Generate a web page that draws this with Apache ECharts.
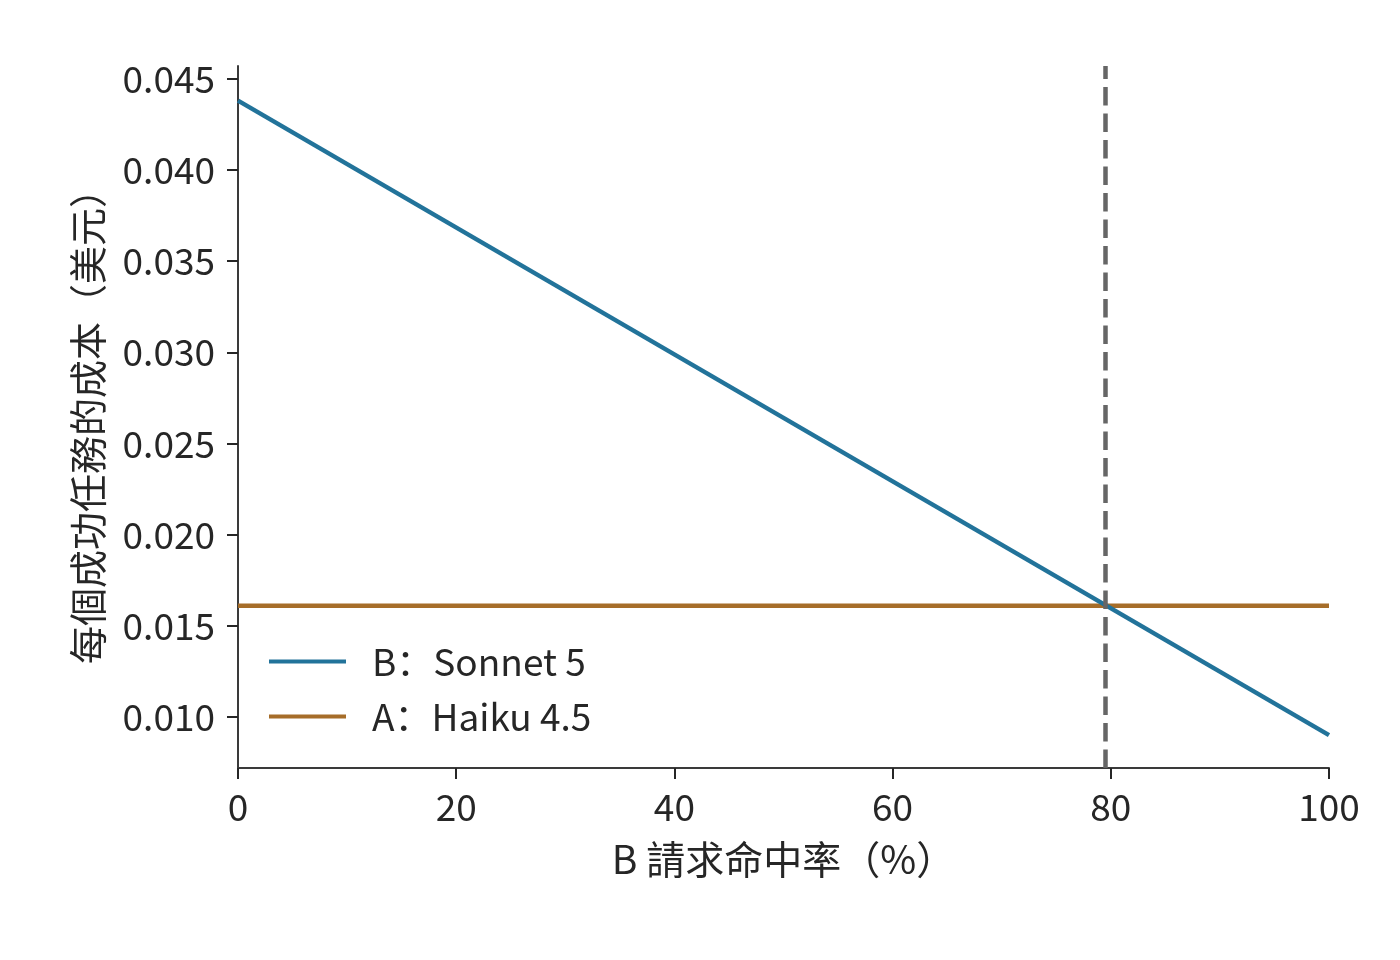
<!DOCTYPE html>
<html>
<head>
<meta charset="utf-8">
<script src="https://cdn.jsdelivr.net/npm/echarts@6/dist/echarts.min.js"></script>
<style>
html,body{margin:0;padding:0;background:#fff;}
#chart{width:1400px;height:960px;}
</style>
</head>
<body>
<div id="chart"></div>
<script>
// Data
const hitRates = [0, 100];
const sonnetCost = [0.0438, 0.0090];
const haikuCost = [0.0161, 0.0161];
const breakEven = 79.5;
const xTicks = [0, 20, 40, 60, 80, 100];
const yTicks = [0.010, 0.015, 0.020, 0.025, 0.030, 0.035, 0.040, 0.045];
const seriesNames = ['B：Sonnet 5', 'A：Haiku 4.5'];
const xAxisTitle = 'B 請求命中率（%）';
const yAxisTitle = '每個成功任務的成本（美元）';

const FONT = '"Noto Sans CJK SC", "Noto Sans CJK TC", "Noto Sans", sans-serif';
const TXT = '#262626';
const AX = '#3a3a3a';

const chart = echarts.init(document.getElementById('chart'), null, {renderer: 'canvas'});
chart.setOption({
  backgroundColor: '#ffffff',
  animation: false,
  textStyle: {fontFamily: FONT},
  grid: {left: 238, right: 71, top: 66, bottom: 192, containLabel: false},
  legend: {
    orient: 'vertical',
    left: 264,
    top: 638,
    icon: 'rect',
    itemWidth: 77,
    itemHeight: 4,
    itemGap: 18,
    textStyle: {fontFamily: FONT, fontSize: 37, color: TXT, padding: [0, 0, 0, 21]},
    data: seriesNames
  },
  xAxis: {
    type: 'value',
    min: 0,
    max: 100,
    interval: 20,
    name: xAxisTitle,
    nameLocation: 'middle',
    nameGap: 72,
    nameTextStyle: {fontFamily: FONT, fontSize: 39, color: TXT},
    axisLine: {show: true, lineStyle: {color: AX, width: 2}},
    axisTick: {show: true, length: 11, lineStyle: {color: TXT, width: 2}, customValues: xTicks},
    axisLabel: {fontFamily: FONT, fontSize: 37, color: TXT, margin: 20, customValues: xTicks},
    splitLine: {show: false}
  },
  yAxis: {
    type: 'value',
    min: 0.0072,
    max: 0.0457,
    name: yAxisTitle,
    nameLocation: 'middle',
    nameRotate: 90,
    nameGap: 131,
    nameTextStyle: {fontFamily: FONT, fontSize: 38, color: TXT},
    axisLine: {show: true, lineStyle: {color: AX, width: 2}},
    axisTick: {show: true, length: 11, lineStyle: {color: TXT, width: 2}, customValues: yTicks},
    axisLabel: {fontFamily: FONT, fontSize: 37, color: TXT, margin: 23, customValues: yTicks,
      formatter: v => v.toFixed(3)},
    splitLine: {show: false}
  },
  series: [
    {
      name: seriesNames[0],
      type: 'line',
      data: hitRates.map((x, i) => [x, sonnetCost[i]]),
      showSymbol: false,
      symbol: 'none',
      lineStyle: {color: '#22739a', width: 4.5},
      itemStyle: {color: '#22739a'},
      z: 3,
      markLine: {
        silent: true,
        symbol: 'none',
        label: {show: false},
        lineStyle: {color: '#666666', width: 4.5, type: [18.5, 8]},
        data: [{xAxis: breakEven}]
      }
    },
    {
      name: seriesNames[1],
      type: 'line',
      data: hitRates.map((x, i) => [x, haikuCost[i]]),
      showSymbol: false,
      symbol: 'none',
      lineStyle: {color: '#a66d29', width: 4.5},
      itemStyle: {color: '#a66d29'},
      z: 2
    }
  ]
});
</script>
</body>
</html>
